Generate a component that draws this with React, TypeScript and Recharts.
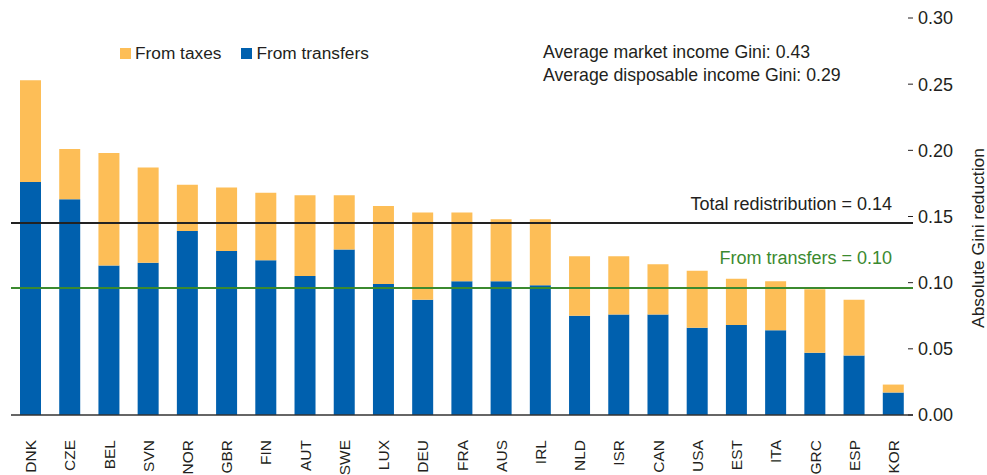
import React from 'react';
import { BarChart, Bar, XAxis, YAxis, ReferenceLine } from 'recharts';

const countries = ['DNK','CZE','BEL','SVN','NOR','GBR','FIN','AUT','SWE','LUX','DEU','FRA','AUS','IRL','NLD','ISR','CAN','USA','EST','ITA','GRC','ESP','KOR'];
const fromTransfers = [0.176,0.163,0.113,0.115,0.139,0.124,0.117,0.105,0.125,0.099,0.087,0.101,0.101,0.098,0.075,0.076,0.076,0.066,0.068,0.064,0.047,0.045,0.017];
const fromTaxes = [0.077,0.038,0.085,0.072,0.035,0.048,0.051,0.061,0.041,0.059,0.066,0.052,0.047,0.050,0.045,0.044,0.038,0.043,0.035,0.037,0.048,0.042,0.006];
const yTicks = [0, 0.05, 0.1, 0.15, 0.2, 0.25, 0.3];
const totalRedistribution = 0.145;
const transfersAverage = 0.096;
const totalLabel = 'Total redistribution = 0.14';
const transfersLabel = 'From transfers = 0.10';
const noteLines = ['Average market income Gini: 0.43', 'Average disposable income Gini: 0.29'];

const data = countries.map((c, i) => ({ country: c, transfers: fromTransfers[i], taxes: fromTaxes[i] }));

const FONT = '"Liberation Sans", Arial, sans-serif';
const TEXT = '#231F20';
const BLUE = '#0060AE';
const ORANGE = '#FDBE57';
const GREEN = '#3B8A2F';

const RightTick = (props: any) => {
  const { x, y, payload } = props;
  return (
    <g>
      <line x1={x - 5} x2={x} y1={y} y2={y} stroke={TEXT} strokeWidth={1} />
      <text x={x + 5} y={y} dy="0.36em" fontFamily={FONT} fontSize={18} fill={TEXT}>
        {payload.value.toFixed(2)}
      </text>
    </g>
  );
};

const LeftTick = (props: any) => {
  const { x, y } = props;
  return <line x1={x} x2={x + 6} y1={y} y2={y} stroke={TEXT} strokeWidth={1} />;
};

const XTick = (props: any) => {
  const { x, y, payload } = props;
  const ty = y + 25;
  return (
    <text x={x} y={ty} transform={`rotate(-90, ${x}, ${ty})`} textAnchor="end" dy="0.36em" fontFamily={FONT} fontSize={15.5} fill={TEXT}>
      {payload.value}
    </text>
  );
};

const refLabel = (text: string, color: string, dy: number) => (props: any) => {
  const vb = props.viewBox;
  return (
    <text x={vb.x + vb.width - 21} y={vb.y - dy} textAnchor="end" fontFamily={FONT} fontSize={18} fill={color}>
      {text}
    </text>
  );
};

export default function App() {
  return (
    <div style={{ position: 'absolute', left: 0, top: 0, width: 987, height: 475, background: '#fff', fontFamily: FONT }}>
      <BarChart width={987} height={475} data={data} margin={{ top: 18, right: 0, bottom: 0, left: 11 }} barSize={21}>
        <XAxis dataKey="country" height={60} tickSize={0} tickMargin={0} tickLine={false} axisLine={{ stroke: '#333', strokeWidth: 1.5 }} tick={<XTick />} interval={0} />
        <YAxis yAxisId="left" orientation="left" width={0} domain={[0, 0.3]} ticks={yTicks} axisLine={false} tickLine={false} tickSize={0} tickMargin={0} tick={<LeftTick />} />
        <YAxis yAxisId="right" orientation="right" width={74} domain={[0, 0.3]} ticks={yTicks} axisLine={false} tickLine={false} tickSize={0} tickMargin={0} tick={<RightTick />} />
        <Bar yAxisId="right" dataKey="transfers" stackId="a" fill={BLUE} isAnimationActive={false} />
        <Bar yAxisId="right" dataKey="taxes" stackId="a" fill={ORANGE} isAnimationActive={false} />
        <ReferenceLine yAxisId="right" y={totalRedistribution} stroke="#222" strokeWidth={2} label={refLabel(totalLabel, TEXT, 13)} />
        <ReferenceLine yAxisId="right" y={transfersAverage} stroke={GREEN} strokeWidth={2} label={refLabel(transfersLabel, GREEN, 24)} />
      </BarChart>
      <div style={{ position: 'absolute', left: 120, top: 43, display: 'flex', alignItems: 'center', fontSize: 17.3, color: TEXT, lineHeight: '20px', whiteSpace: 'nowrap' }}>
        <span style={{ display: 'inline-block', width: 11, height: 11, background: ORANGE, marginRight: 4 }} />
        <span style={{ marginRight: 20 }}>From taxes</span>
        <span style={{ display: 'inline-block', width: 11, height: 11, background: BLUE, marginRight: 4 }} />
        <span>From transfers</span>
      </div>
      <div style={{ position: 'absolute', left: 543, top: 41, fontSize: 17.7, color: TEXT, lineHeight: '23px', whiteSpace: 'nowrap' }}>
        {noteLines.map((l) => (
          <div key={l}>{l}</div>
        ))}
      </div>
      <div style={{ position: 'absolute', left: 978, top: 238, transform: 'translate(-50%, -50%) rotate(-90deg)', fontSize: 17.4, color: TEXT, whiteSpace: 'nowrap' }}>
        Absolute Gini reduction
      </div>
    </div>
  );
}
